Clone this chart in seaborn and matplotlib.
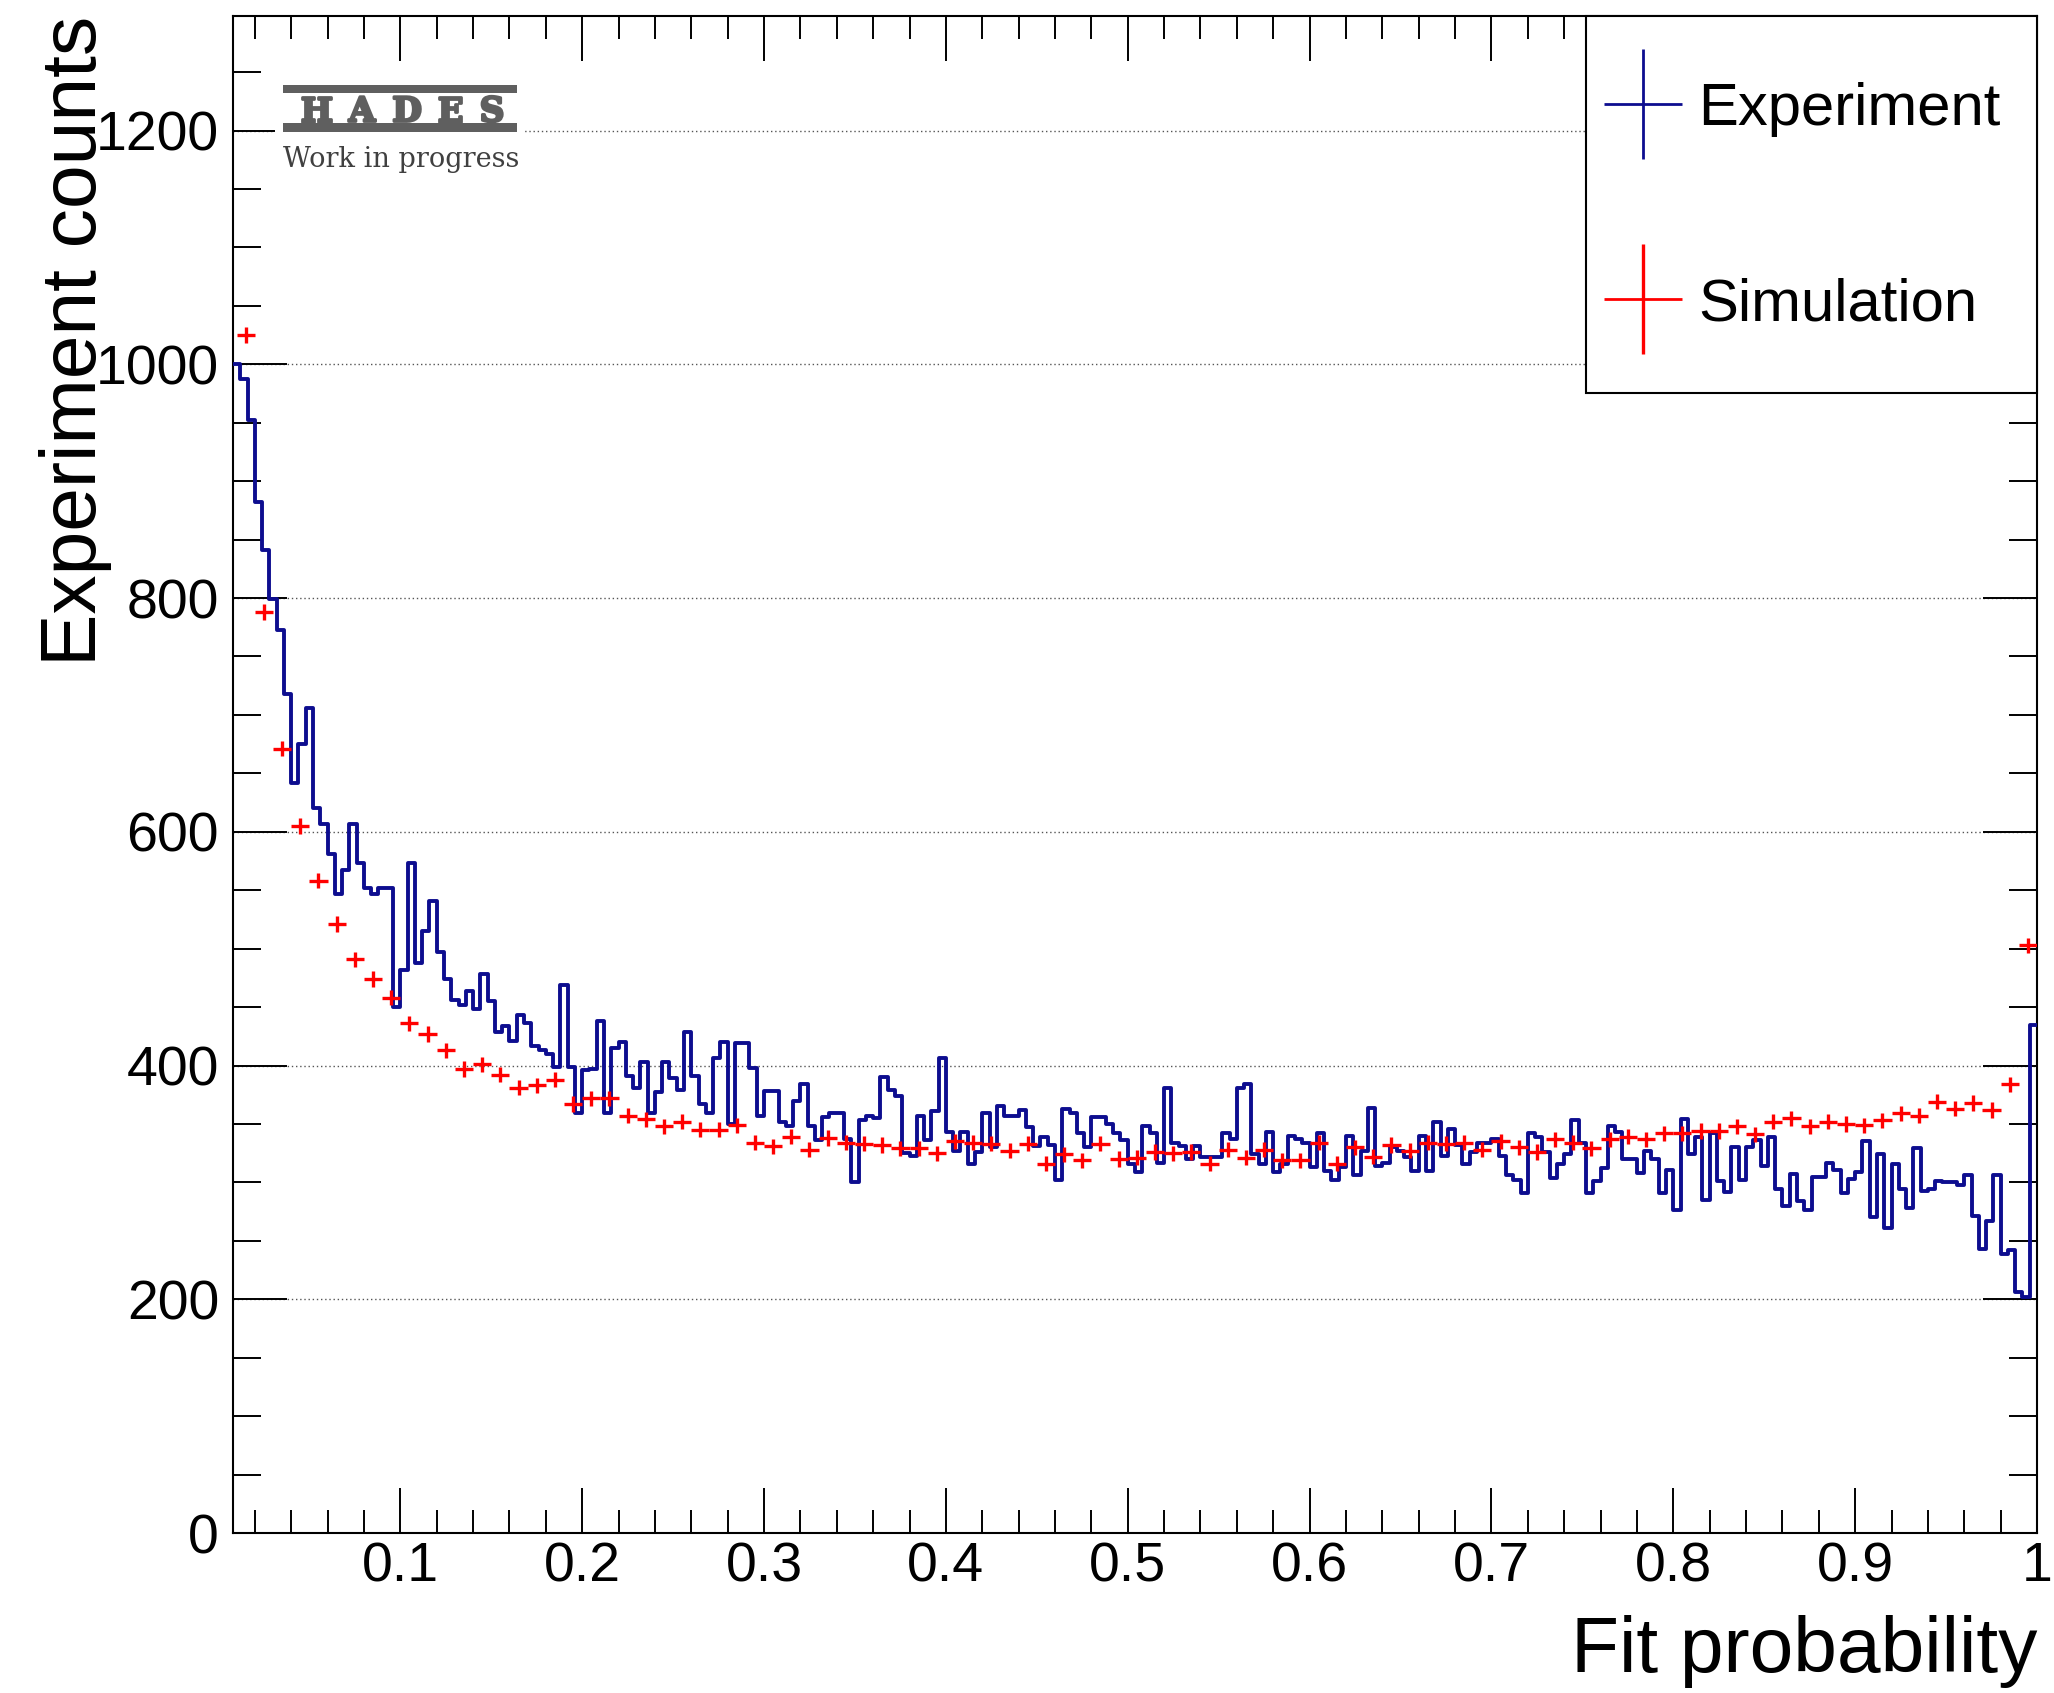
import numpy as np
import matplotlib
matplotlib.use("Agg")
import matplotlib.pyplot as plt
import matplotlib.patheffects as pe
import seaborn as sns
from matplotlib.container import ErrorbarContainer
from matplotlib.collections import LineCollection
from matplotlib.legend_handler import HandlerErrorbar
from matplotlib.patches import Rectangle
from matplotlib.ticker import FixedLocator, MultipleLocator

# ---------------------------------------------------------------- data
# Experiment: fit-probability histogram, 0.004 wide bins starting at 0.008
EXP_START = 0.008
EXP_BIN_WIDTH = 0.004
exp_counts = [
    1000, 987, 952, 882, 841, 799, 773, 718, 642, 675,
    706, 620, 607, 581, 547, 567, 607, 573, 552, 547,
    552, 552, 450, 482, 573, 488, 515, 541, 497, 474,
    456, 452, 464, 448, 478, 455, 429, 434, 421, 443,
    436, 417, 413, 410, 399, 469, 399, 359, 396, 397,
    438, 359, 415, 420, 391, 381, 403, 359, 377, 403,
    389, 379, 429, 391, 367, 359, 406, 420, 350, 419,
    419, 398, 357, 378, 378, 352, 348, 370, 384, 348,
    336, 356, 359, 359, 337, 300, 353, 357, 355, 390,
    379, 374, 325, 323, 357, 336, 361, 406, 343, 327,
    343, 316, 326, 359, 330, 365, 357, 357, 362, 347,
    331, 339, 332, 302, 363, 359, 342, 330, 356, 356,
    350, 342, 336, 316, 309, 348, 342, 317, 381, 334,
    331, 320, 331, 322, 322, 322, 342, 337, 381, 384,
    324, 316, 343, 309, 316, 340, 337, 334, 313, 342,
    310, 302, 313, 340, 306, 327, 364, 314, 317, 330,
    327, 322, 310, 340, 310, 352, 323, 346, 332, 316,
    326, 334, 334, 337, 323, 306, 302, 291, 342, 339,
    326, 304, 316, 324, 353, 334, 291, 301, 312, 348,
    343, 320, 320, 308, 327, 320, 291, 311, 276, 354,
    324, 339, 285, 342, 301, 292, 330, 302, 330, 336,
    314, 339, 294, 280, 307, 284, 276, 305, 305, 317,
    311, 291, 303, 309, 335, 270, 324, 261, 316, 294,
    278, 329, 293, 294, 301, 300, 300, 298, 306, 271,
    243, 267, 306, 239, 242, 206, 202, 435,
]

# Simulation: 0.01 wide bins, first visible centre at 0.015
SIM_START = 0.015
SIM_BIN_WIDTH = 0.01
sim_counts = [
    1025, 788, 671, 605, 558, 521, 491, 474, 458, 436,
    427, 413, 397, 401, 392, 381, 383, 388, 367, 372,
    372, 357, 354, 348, 352, 345, 345, 349, 334, 331,
    339, 328, 338, 334, 333, 332, 329, 329, 325, 335,
    334, 333, 327, 333, 316, 324, 319, 333, 320, 321,
    326, 325, 326, 316, 328, 321, 328, 319, 319, 334,
    316, 330, 322, 332, 327, 334, 333, 334, 328, 335,
    330, 326, 337, 334, 329, 337, 339, 337, 342, 342,
    344, 344, 348, 341, 352, 355, 348, 352, 350, 349,
    353, 359, 357, 369, 363, 368, 362, 384, 503,
]
SIM_ERR = 6.5

x_ticks = [0.1, 0.2, 0.3, 0.4, 0.5, 0.6, 0.7, 0.8, 0.9, 1.0]
x_tick_labels = ["0.1", "0.2", "0.3", "0.4", "0.5", "0.6", "0.7", "0.8", "0.9", "1"]
y_ticks = [0, 200, 400, 600, 800, 1000, 1200]
X_RANGE = (0.008, 1.0)
Y_RANGE = (0, 1298)

BLUE = "#0d0d8f"
RED = "#ff0000"
LOGO_GREY = "#5f5f5f"

# ---------------------------------------------------------------- style
sns.set_theme(style="ticks", rc={
    "axes.edgecolor": "black", "xtick.color": "black", "ytick.color": "black",
    "text.color": "black", "axes.labelcolor": "black",
})
plt.rcParams["font.family"] = ["Liberation Sans", "DejaVu Sans"]

W, H = 2054, 1693
fig = plt.figure(figsize=(W / 100, H / 100), dpi=100)
fig.patch.set_facecolor("white")

# plot frame in pixels (left, top, right, bottom)
AX_L, AX_T, AX_R, AX_B = 233, 16, 2037, 1533


def fx(px):
    return px / W


def fy(py):
    return 1 - py / H


def axx(px):
    return (px - AX_L) / (AX_R - AX_L)


def axy(py):
    return (AX_B - py) / (AX_B - AX_T)


ax = fig.add_axes([fx(AX_L), fy(AX_B), (AX_R - AX_L) / W, (AX_B - AX_T) / H])
ax.set_facecolor("white")

# ---------------------------------------------------------------- marks
edges = EXP_START + EXP_BIN_WIDTH * np.arange(len(exp_counts) + 1)
centres = edges[:-1] + EXP_BIN_WIDTH / 2
sns.histplot(x=centres, weights=exp_counts, bins=edges.tolist(), element="step",
             fill=False, color=BLUE, linewidth=2.8, ax=ax, zorder=3)

sim_x = SIM_START + SIM_BIN_WIDTH * np.arange(len(sim_counts))
sim = ax.errorbar(sim_x, sim_counts, xerr=SIM_BIN_WIDTH / 2, yerr=SIM_ERR,
                  fmt="none", ecolor=RED, elinewidth=2.4, capsize=0,
                  zorder=4, label="Simulation")

# ---------------------------------------------------------------- axes
ax.set_xlim(*X_RANGE)
ax.set_ylim(*Y_RANGE)
ax.xaxis.set_major_locator(FixedLocator(x_ticks))
ax.set_xticklabels(x_tick_labels)
ax.xaxis.set_minor_locator(MultipleLocator(0.02))
ax.yaxis.set_major_locator(FixedLocator(y_ticks))
ax.yaxis.set_minor_locator(MultipleLocator(50))

ax.tick_params(axis="x", which="major", direction="in", length=32.5, width=1.4,
               top=True, bottom=True, labelsize=40, pad=6)
ax.tick_params(axis="x", which="minor", direction="in", length=16.5, width=1.4,
               top=True, bottom=True)
ax.tick_params(axis="y", which="major", direction="in", length=39, width=1.4,
               left=True, right=True, labelsize=40, pad=10)
ax.tick_params(axis="y", which="minor", direction="in", length=20, width=1.4,
               left=True, right=True)
for sp in ax.spines.values():
    sp.set_visible(True)
    sp.set_linewidth(1.5)
    sp.set_color("black")

ax.set_axisbelow(True)
ax.yaxis.grid(True, which="major", linestyle=(0, (1, 2)), color="#555555",
              linewidth=1.0)
ax.xaxis.grid(False)

ax.set_xlabel("Fit probability", fontsize=56.5, loc="right")
ax.xaxis.set_label_coords(1.0, -0.054)
ax.set_ylabel("Experiment counts", fontsize=56.5, loc="top")
ax.yaxis.set_label_coords(-0.067, 1.0)

# ---------------------------------------------------------------- legend
ax.add_patch(Rectangle((axx(1586), axy(393)), axx(2037) - axx(1586),
                       axy(16) - axy(393), transform=ax.transAxes,
                       facecolor="white", edgecolor="black", linewidth=1.5,
                       zorder=5, clip_on=False))
exp_handle = ErrorbarContainer(
    (None, (), (LineCollection([], colors=BLUE, linewidths=2.0),
                LineCollection([], colors=BLUE, linewidths=2.0))),
    has_xerr=True, has_yerr=True, label="Experiment")
leg = ax.legend(
    handles=[exp_handle, sim], labels=["Experiment", "Simulation"],
    handler_map={ErrorbarContainer: HandlerErrorbar(xerr_size=0.65, yerr_size=0.92)},
    loc="upper left", bbox_to_anchor=(axx(1643), axy(82)),
    borderaxespad=0, borderpad=0, fontsize=43, frameon=False,
    handlelength=0.0, handletextpad=0.92, labelspacing=2.35, handleheight=0.7)
leg.set_zorder(6)
for h in leg.legend_handles:
    if hasattr(h, "set_linewidth"):
        h.set_linewidth(2.0)

# ---------------------------------------------------------------- logo
fig.add_artist(Rectangle((fx(275), fy(185)), (525 - 275) / W, (185 - 75) / H,
                         transform=fig.transFigure, facecolor="white",
                         edgecolor="none", zorder=5))
for top, bottom in [(85, 93), (123, 132)]:
    fig.add_artist(Rectangle((fx(283), fy(bottom)), (517 - 283) / W,
                             (bottom - top) / H, transform=fig.transFigure,
                             facecolor=LOGO_GREY, edgecolor="none", zorder=6))
heavy = [pe.withStroke(linewidth=2.0, foreground=LOGO_GREY)]
for letter, cx in zip("HADES", [316, 362, 407, 450, 492]):
    fig.text(fx(cx), fy(108.5), letter, ha="center", va="center_baseline",
             fontsize=24.5, fontweight="bold", family="DejaVu Serif",
             color=LOGO_GREY, zorder=7, path_effects=heavy)
fig.text(fx(283), fy(167), "Work in progress", ha="left", va="baseline",
         fontsize=19.5, family="DejaVu Serif", color="#404040", zorder=7)

fig.savefig("out.png", dpi=100)
